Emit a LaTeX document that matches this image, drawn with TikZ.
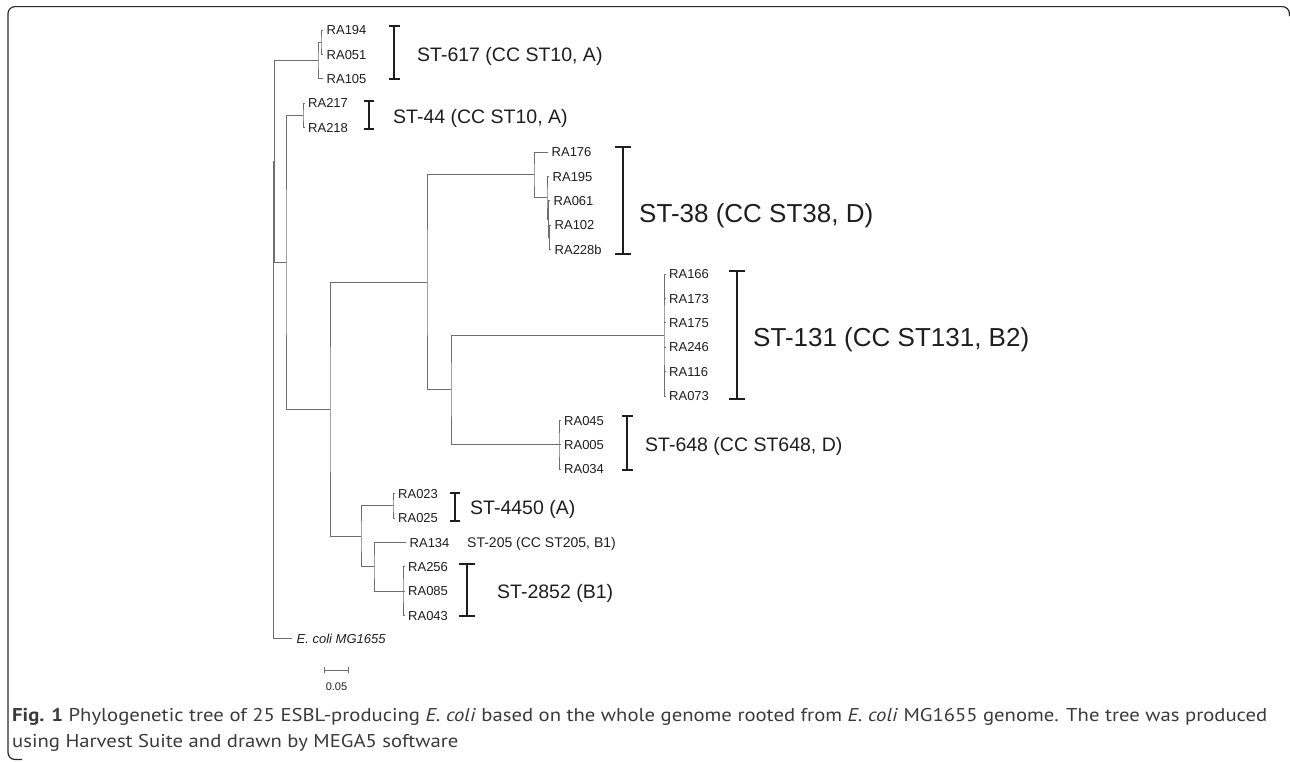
\documentclass[tikz,border=0pt]{standalone}
\usepackage{fontspec}
\setmainfont{Liberation Sans}
\newfontfamily\capfont[FakeStretch=1.118]{PT Sans}
\usetikzlibrary{arrows.meta}
\definecolor{treeg}{HTML}{6E6E6E}
\definecolor{ink}{HTML}{1E1E1E}
\definecolor{capink}{HTML}{3A3A3A}
\definecolor{framec}{HTML}{2A2A2A}
\newcommand\mkleaf[4]{\coordinate (t#1) at (#2,#3); \node[leaf] (l#1) at ([xshift=3.5pt]t#1) {#4};}
\newcommand\kids[3]{\draw[br] (#2) -| (#1) |- (#3);}
\newcommand\kid[2]{\draw[br] (#1 |- #2) -- (#2);}
\begin{document}
\begin{tikzpicture}[x=1pt,y=-1pt,
  br/.style={draw=treeg, line width=1pt},
  leaf/.style={anchor=west, inner sep=0pt, text=ink, font=\fontsize{13}{13}\selectfont, text height=9.3pt, text depth=0pt},
  stmid/.style={anchor=west, inner sep=0pt, text=ink, font=\fontsize{19.5}{20}\selectfont, text height=14pt, text depth=0pt},
  stbig/.style={anchor=west, inner sep=0pt, text=ink, font=\fontsize{26}{26}\selectfont, text height=18.6pt, text depth=0pt},
  stsmall/.style={anchor=west, inner sep=0pt, text=ink, font=\fontsize{14}{14}\selectfont, text height=10pt, text depth=0pt},
  cladebar/.style={draw=ink, line width=1.6pt, {Bar[width=#1,line width=1.6pt]}-{Bar[width=#1,line width=1.6pt]}},
  capline/.style={anchor=west, inner sep=0pt, text=capink, font=\capfont\fontsize{18.5}{20}\selectfont}
]
\useasboundingbox (0,0) rectangle (1290,761);
% frame
\draw[framec, line width=1.2pt, rounded corners=7pt] (1289.4,16) |- (8,6.6) -- (8,759.5) -- (22,759.5);

% leaves
\mkleaf{RA194}{323}{30}{RA194}
\mkleaf{RA051}{323}{54.4}{RA051}
\mkleaf{RA105}{323}{78.8}{RA105}
\mkleaf{RA217}{304.5}{103.2}{RA217}
\mkleaf{RA218}{304.5}{127.6}{RA218}
\mkleaf{RA176}{548}{152}{RA176}
\mkleaf{RA195}{549}{176.4}{RA195}
\mkleaf{RA061}{550}{200.8}{RA061}
\mkleaf{RA102}{551}{225.2}{RA102}
\mkleaf{RA228b}{551}{249.6}{RA228b}
\mkleaf{RA166}{665.5}{274}{RA166}
\mkleaf{RA173}{665.5}{298.4}{RA173}
\mkleaf{RA175}{665.5}{322.8}{RA175}
\mkleaf{RA246}{665.5}{347.2}{RA246}
\mkleaf{RA116}{665.5}{371.6}{RA116}
\mkleaf{RA073}{665.5}{396}{RA073}
\mkleaf{RA045}{560.5}{420.4}{RA045}
\mkleaf{RA005}{560.5}{444.8}{RA005}
\mkleaf{RA034}{560.5}{469.2}{RA034}
\mkleaf{RA023}{394.5}{493.6}{RA023}
\mkleaf{RA025}{394.5}{518}{RA025}
\mkleaf{RA134}{406}{542.4}{RA134}
\mkleaf{RA256}{404.5}{566.8}{RA256}
\mkleaf{RA085}{404.5}{591.2}{RA085}
\mkleaf{RA043}{404.5}{615.6}{RA043}
\coordinate (tEcoli) at (292,638.5);
\node[leaf, font=\fontsize{13}{13}\selectfont\itshape] (lEcoli) at ([xshift=4.5pt]tEcoli) {E. coli MG1655};

% internal nodes
\coordinate (P1) at (321,42.2);
\coordinate (P0) at (318,60.5);
\coordinate (Q44) at (303,115.4);
\coordinate (S3) at (549.5,237.4);
\coordinate (S2) at (548.5,219.1);
\coordinate (S1) at (547,197.75);
\coordinate (N38) at (534,174.9);
\coordinate (N131) at (664,335);
\coordinate (N648) at (559,444.8);
\coordinate (NM) at (451,389.9);
\coordinate (NB) at (427,282.4);
\coordinate (N4450) at (393,505.8);
\coordinate (N2852) at (403,591.2);
\coordinate (N205) at (374,566.8);
\coordinate (NL) at (361,536.3);
\coordinate (N330) at (330,409.35);
\coordinate (N286) at (286,262.4);
\coordinate (NA) at (274.5,161.4);
\coordinate (Root) at (273,400);

% branches
\kids{P1}{tRA194}{tRA051}
\kids{P0}{P1}{tRA105}
\kids{Q44}{tRA217}{tRA218}
\kids{S3}{tRA102}{tRA228b}
\kids{S2}{tRA061}{S3}
\kids{S1}{tRA195}{S2}
\kids{N38}{tRA176}{S1}
\kids{N131}{tRA166}{tRA073}
\kid{N131}{tRA173}
\kid{N131}{tRA175}
\kid{N131}{tRA246}
\kid{N131}{tRA116}
\kids{N648}{tRA045}{tRA034}
\kid{N648}{tRA005}
\kids{NM}{N131}{N648}
\kids{NB}{N38}{NM}
\kids{N4450}{tRA023}{tRA025}
\kids{N2852}{tRA256}{tRA043}
\kid{N2852}{tRA085}
\kids{N205}{tRA134}{N2852}
\kids{NL}{N4450}{N205}
\kids{N330}{NB}{NL}
\kids{N286}{Q44}{N330}
\kids{NA}{P0}{N286}
\draw[br] (NA) -| (Root |- NA) |- (tEcoli);

% clade bars and labels
\coordinate (b617a) at (394,25);  \coordinate (b617b) at (394,80);
\draw[cladebar=11pt] (b617a) -- (b617b);
\node[stmid] (s617) at (417,54) {ST-617 (CC ST10, A)};
\coordinate (b44a) at (369,100);  \coordinate (b44b) at (369,130);
\draw[cladebar=10pt] (b44a) -- (b44b);
\node[stmid] (s44) at (393,116) {ST-44 (CC ST10, A)};
\coordinate (b38a) at (623,146);  \coordinate (b38b) at (623,255);
\draw[cladebar=16pt] (b38a) -- (b38b);
\node[stbig] (s38) at (639,213) {ST-38 (CC ST38, D)};
\coordinate (b131a) at (737,270);  \coordinate (b131b) at (737,400);
\draw[cladebar=16pt] (b131a) -- (b131b);
\node[stbig] (s131) at (753,337) {ST-131 (CC ST131, B2)};
\coordinate (b648a) at (627,415);  \coordinate (b648b) at (627,471);
\draw[cladebar=11pt] (b648a) -- (b648b);
\node[stmid] (s648) at (645,444) {ST-648 (CC ST648, D)};
\coordinate (b4450a) at (455,492);  \coordinate (b4450b) at (455,522);
\draw[cladebar=10pt] (b4450a) -- (b4450b);
\node[stmid] (s4450) at (470,507) {ST-4450 (A)};
\node[stsmall] (s205) at (467,542.4) {ST-205 (CC ST205, B1)};
\coordinate (b2852a) at (467,563);  \coordinate (b2852b) at (467,617);
\draw[cladebar=16pt] (b2852a) -- (b2852b);
\node[stmid] (s2852) at (497,591) {ST-2852 (B1)};

% scale bar
\coordinate (sbL) at (324,670); \coordinate (sbR) at (349,670);
\draw[draw=treeg, line width=1pt, {Bar[width=6pt,line width=1pt]}-{Bar[width=6pt,line width=1pt]}] (sbL) -- (sbR);
\node[inner sep=0pt, text=ink, font=\fontsize{11}{11}\selectfont, text height=8pt, text depth=0pt] (sblab) at (336.5,686) {0.05};

% caption
\node[capline] (cap1) at (12,717) {\textbf{Fig. 1} Phylogenetic tree of 25 ESBL-producing \textit{E. coli} based on the whole genome rooted from \textit{E. coli} MG1655 genome. The tree was produced};
\node[capline] (cap2) at (12,743) {using Harvest Suite and drawn by MEGA5 software};
\end{tikzpicture}
\end{document}
